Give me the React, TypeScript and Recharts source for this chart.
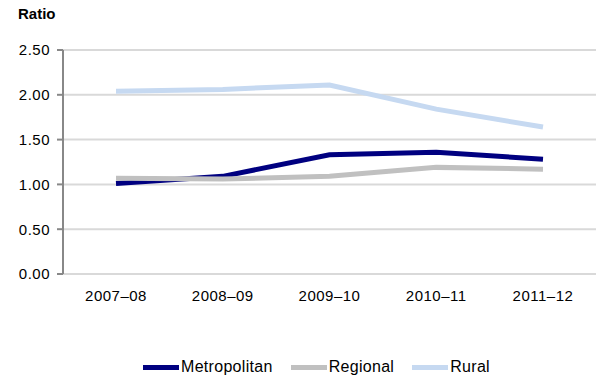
import React from "react";
import { LineChart, Line, XAxis, YAxis, CartesianGrid } from "recharts";

const categories = ["2007–08", "2008–09", "2009–10", "2010–11", "2011–12"];
const metropolitan = [1.01, 1.09, 1.33, 1.36, 1.28];
const regional = [1.07, 1.06, 1.09, 1.19, 1.17];
const rural = [2.04, 2.06, 2.11, 1.84, 1.64];
const yTicks = [0, 0.5, 1.0, 1.5, 2.0, 2.5];
const boundaryTicks = [0, 1, 2, 3, 4, 5];

const series = [
  { key: "Metropolitan", color: "#000080" },
  { key: "Regional", color: "#c0c0c0" },
  { key: "Rural", color: "#c6d9f1" },
];

const data = categories.map((c, i) => ({
  name: c,
  Metropolitan: metropolitan[i],
  Regional: regional[i],
  Rural: rural[i],
}));

const FONT = "'Liberation Sans', Arial, sans-serif";

export default function App() {
  return (
    <div style={{ position: "absolute", left: 0, top: 0, width: 610, height: 390, background: "#fff" }}>
      <div style={{ position: "absolute", left: 18, top: 5, fontFamily: FONT, fontWeight: "bold", fontSize: 15 }}>Ratio</div>
      <LineChart width={610} height={390} data={data} margin={{ top: 50, right: 14, bottom: 86, left: 0 }}>
        <CartesianGrid vertical={false} stroke="#d9d9d9" strokeWidth={2} />
        <XAxis
          xAxisId="bounds"
          type="number"
          domain={[0, 5]}
          ticks={boundaryTicks}
          allowDataOverflow
          axisLine={{ stroke: "#888", strokeWidth: 2 }}
          tickLine={{ stroke: "#888", strokeWidth: 2 }}
          tickSize={4}
          tick={false}
          height={0}
        />
        <XAxis
          dataKey="name"
          padding={{ left: 53, right: 53 }}
          axisLine={false}
          tickLine={false}
          tick={{ fontFamily: FONT, fontSize: 15, fill: "#000", letterSpacing: 0.5 }}
          tickMargin={10}
          height={30}
          interval={0}
        />
        <YAxis
          width={63}
          domain={[0, 2.5]}
          ticks={yTicks}
          tickFormatter={(v: number) => v.toFixed(2)}
          axisLine={{ stroke: "#888", strokeWidth: 2 }}
          tickLine={{ stroke: "#888", strokeWidth: 2 }}
          tickSize={6}
          tickMargin={7}
          tick={{ fontFamily: FONT, fontSize: 15, fill: "#000", letterSpacing: 0.5 }}
          interval={0}
        />
        {series.map((s) => (
          <Line
            key={s.key}
            type="linear"
            dataKey={s.key}
            stroke={s.color}
            strokeWidth={5}
            dot={false}
            activeDot={false}
            isAnimationActive={false}
          />
        ))}
      </LineChart>
      <div
        style={{
          position: "absolute",
          top: 357,
          left: 143,
          display: "flex",
          fontFamily: FONT,
          fontSize: 16,
          lineHeight: "20px",
          color: "#000",
          letterSpacing: 0.3,
        }}
      >
        {series.map((s, i) => (
          <div key={s.key} style={{ display: "flex", alignItems: "center", marginRight: i < series.length - 1 ? 18 : 0 }}>
            <div style={{ width: 36, height: 5, background: s.color, marginRight: 2 }} />
            <span>{s.key}</span>
          </div>
        ))}
      </div>
    </div>
  );
}
